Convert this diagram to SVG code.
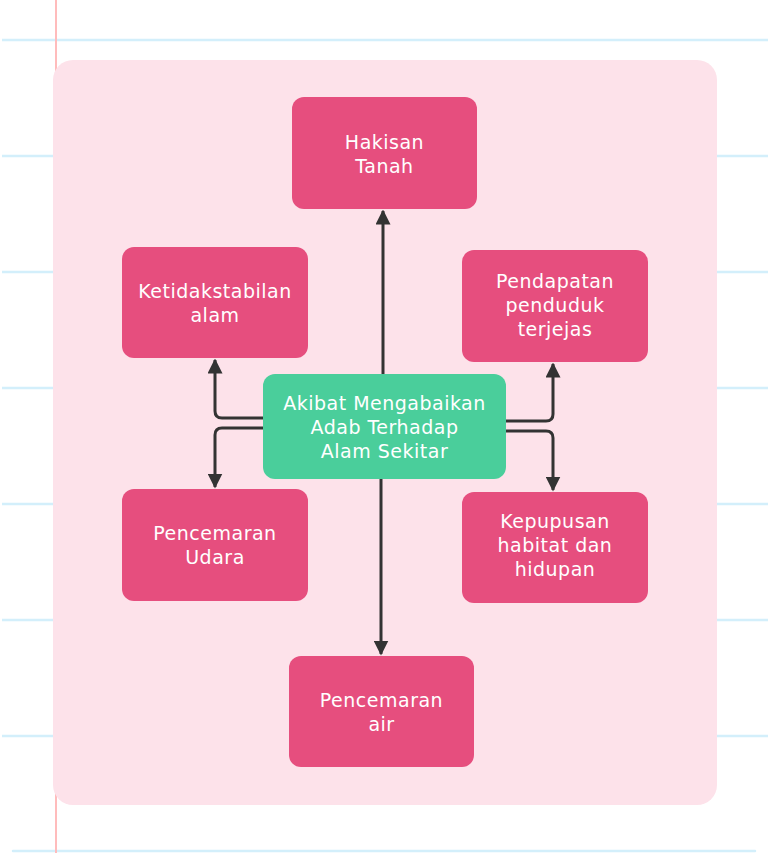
<svg xmlns="http://www.w3.org/2000/svg" width="768" height="853" viewBox="0 0 768 853">
<style>
.rule{stroke:#d3effb;stroke-width:2.5;fill:none}
.box{fill:#e64e7e}
.center{fill:#4ace9b}
.lbl{font-family:"DejaVu Sans","Open Sans",sans-serif;font-size:19px;letter-spacing:0.5px;fill:#ffffff;text-anchor:middle}
.conn{stroke:#333333;stroke-width:3;fill:none}
</style>
<defs>
<marker id="ah" viewBox="0 0 10 10" refX="9" refY="5" markerWidth="5" markerHeight="5" orient="auto" markerUnits="strokeWidth">
<path d="M0,0 L10,5 L0,10 Z" fill="#333333"/>
</marker>
</defs>
<rect width="768" height="853" fill="#ffffff"/>
<g id="paper">
<line class="rule" x1="2" y1="40" x2="768" y2="40"/>
<line class="rule" x1="2" y1="156" x2="768" y2="156"/>
<line class="rule" x1="2" y1="272" x2="768" y2="272"/>
<line class="rule" x1="2" y1="388" x2="768" y2="388"/>
<line class="rule" x1="2" y1="504" x2="768" y2="504"/>
<line class="rule" x1="2" y1="620" x2="768" y2="620"/>
<line class="rule" x1="2" y1="736" x2="768" y2="736"/>
<line class="rule" x1="13" y1="851" x2="755" y2="851" stroke-linecap="round"/>
<line x1="56" y1="0" x2="56" y2="853" stroke="#ffbcbc" stroke-width="2"/>
<rect x="53" y="60" width="664" height="745" rx="20" fill="#fde2ea"/>
</g>
<g id="connectors">
<path class="conn" d="M383,374 V211" marker-end="url(#ah)"/>
<path class="conn" d="M381,479 V654" marker-end="url(#ah)"/>
<path class="conn" d="M263,418 H222 Q215,418 215,411 V360" marker-end="url(#ah)"/>
<path class="conn" d="M263,428 H222 Q215,428 215,435 V487" marker-end="url(#ah)"/>
<path class="conn" d="M506,421 H546 Q553,421 553,414 V364" marker-end="url(#ah)"/>
<path class="conn" d="M506,431 H546 Q553,431 553,438 V490" marker-end="url(#ah)"/>
</g>
<g id="center">
<rect class="center" x="263" y="374" width="243" height="105" rx="12"/>
<text class="lbl" x="384.5" y="410">Akibat Mengabaikan</text>
<text class="lbl" x="384.5" y="434">Adab Terhadap</text>
<text class="lbl" x="384.5" y="458">Alam Sekitar</text>
</g>
<g id="hakisan">
<rect class="box" x="292" y="97" width="185" height="112" rx="12"/>
<text class="lbl" x="384.5" y="149">Hakisan</text>
<text class="lbl" x="384.5" y="173">Tanah</text>
</g>
<g id="ketidakstabilan">
<rect class="box" x="122" y="247" width="186" height="111" rx="12"/>
<text class="lbl" x="215" y="298">Ketidakstabilan</text>
<text class="lbl" x="215" y="322">alam</text>
</g>
<g id="pendapatan">
<rect class="box" x="462" y="250" width="186" height="112" rx="12"/>
<text class="lbl" x="555" y="288">Pendapatan</text>
<text class="lbl" x="555" y="312">penduduk</text>
<text class="lbl" x="555" y="336">terjejas</text>
</g>
<g id="udara">
<rect class="box" x="122" y="489" width="186" height="112" rx="12"/>
<text class="lbl" x="215" y="540">Pencemaran</text>
<text class="lbl" x="215" y="564">Udara</text>
</g>
<g id="kepupusan">
<rect class="box" x="462" y="492" width="186" height="111" rx="12"/>
<text class="lbl" x="555" y="528">Kepupusan</text>
<text class="lbl" x="555" y="552">habitat dan</text>
<text class="lbl" x="555" y="576">hidupan</text>
</g>
<g id="air">
<rect class="box" x="289" y="656" width="185" height="111" rx="12"/>
<text class="lbl" x="381.5" y="707">Pencemaran</text>
<text class="lbl" x="381.5" y="731">air</text>
</g>
</svg>
